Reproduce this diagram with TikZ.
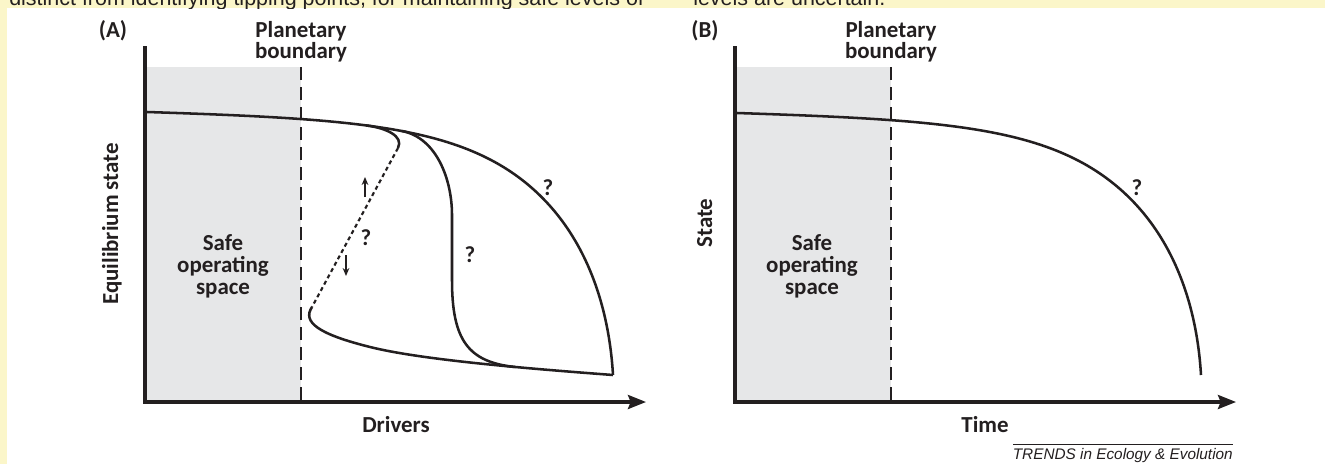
\documentclass[tikz,border=0pt]{standalone}
\usepackage{fontspec}
\setmainfont{Carlito}
\newfontfamily\arialf{Liberation Sans}
\usetikzlibrary{arrows.meta}
\definecolor{ink}{HTML}{231F20}
\definecolor{pagey}{HTML}{FBF6C9}
\definecolor{safegray}{HTML}{E6E7E8}
\begin{document}
\begin{tikzpicture}[x=0.75pt,y=-0.75pt,
  lab/.style={font=\bfseries\fontsize{17.2}{19}\selectfont, text=ink, inner sep=0pt, anchor=base},
  axisline/.style={line width=2.5pt, draw=ink, -{Stealth[length=13.5pt,width=10.5pt,inset=2pt]}},
  curveline/.style={line width=1.9pt, draw=ink},
  boundline/.style={line width=2pt, draw=ink, dash pattern=on 10pt off 5pt},
  unstable/.style={line width=1.6pt, draw=ink, dash pattern=on 3pt off 2.4pt},
  tickarrow/.style={line width=1.4pt, draw=ink, -{Stealth[length=6pt,width=5pt]}},
  pagetext/.style={font=\arialf\fontsize{16.1}{19}\selectfont, text=ink, inner sep=0pt, anchor=base west}
]
\useasboundingbox (0,0) rectangle (1325,464);
\fill[white] (0,0) rectangle (1325,464);
\fill[pagey] (0,0) rectangle (1325,8);
\fill[pagey] (0,0) rectangle (7,464);
\begin{scope}
  \clip (0,0) rectangle (1325,8);
  \node[pagetext] (ptxtA) at (9,5.5) {distinct from identifying tipping points, for maintaining safe levels of};
  \node[pagetext] (ptxtB) at (693,5.5) {levels are uncertain.};
\end{scope}

% ---------------- Panel A ----------------
\fill[safegray] (146,67) rectangle (301,402);
\draw[boundline] (301,67) -- (301,402);
\draw[axisline] (145,46) |- (646,402);

% main + outer branch
\draw[curveline] (147,112) .. controls (330,118) and (430,124) .. (500,165)
                 .. controls (575,209) and (608,290) .. (613,375);
% lower branch
\draw[curveline] (312,307) .. controls (302,322) and (318,334) .. (370,347)
                 .. controls (420,359.5) and (520,368) .. (613,375);
% upper fold
\draw[curveline] (366,125.4) .. controls (386,128) and (404,136) .. (398,148);
% unstable dashed branch
\coordinate (foldU) at (398,148);
\coordinate (foldL) at (312,307);
\draw[unstable] (foldU) -- (foldL);
% S-shaped middle curve
\draw[curveline] (402,131) .. controls (437,138) and (452,180) .. (452,215)
                 -- (452,280) .. controls (452,340) and (468,362) .. (515,367);

% small arrows
\coordinate (upS) at (365,197);
\coordinate (upE) at (365,177);
\coordinate (dnS) at (346,255);
\coordinate (dnE) at (346,276);
\draw[tickarrow] (upS) -- (upE);
\draw[tickarrow] (dnS) -- (dnE);

\node[lab] (qA1) at (366,245) {?};
\node[lab] (qA2) at (470,262) {?};
\node[lab] (qA3) at (548,195) {?};

\node[lab] (panA) at (113,37) {(A)};
\node[lab] (pbA1) at (301,37) {Planetary};
\node[lab] (pbA2) at (301,58) {boundary};
\node[lab] (safA1) at (223,250) {Safe};
\node[lab] (safA2) at (223,272) {operating};
\node[lab] (safA3) at (223,294) {space};
\node[lab] (xA) at (396,432) {Drivers};
\node[lab, rotate=90] (yA) at (118,224) {Equilibrium state};

% ---------------- Panel B ----------------
\fill[safegray] (736,67) rectangle (891,402);
\draw[boundline] (891,67) -- (891,402);
\draw[axisline] (735,46) |- (1236,402);

\draw[curveline] (737,113) .. controls (918,119) and (1018,125) .. (1088,166)
                 .. controls (1163,210) and (1196,290) .. (1201,375);

\node[lab] (qB) at (1137,195) {?};
\node[lab] (panB) at (705,37) {(B)};
\node[lab] (pbB1) at (891,37) {Planetary};
\node[lab] (pbB2) at (891,58) {boundary};
\node[lab] (safB1) at (812,250) {Safe};
\node[lab] (safB2) at (812,272) {operating};
\node[lab] (safB3) at (812,294) {space};
\node[lab] (xB) at (985,432) {Time};
\node[lab, rotate=90] (yB) at (712,223) {State};

% credit line
\coordinate (crL) at (1013,444);
\coordinate (crR) at (1233,444);
\draw[ink, line width=0.6pt] (crL) -- (crR);
\node[font=\arialf\itshape\fontsize{11.5}{13}\selectfont, text=ink, inner sep=0pt, anchor=base east] (credit) at (1233,459) {TRENDS in Ecology \& Evolution};
\end{tikzpicture}
\end{document}
